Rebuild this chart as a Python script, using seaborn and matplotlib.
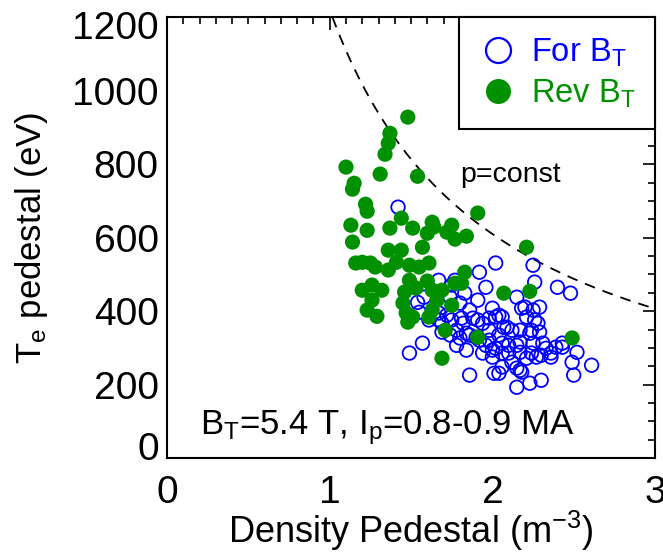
import matplotlib
matplotlib.use("Agg")
import numpy as np
import pandas as pd
import seaborn as sns
import matplotlib.pyplot as plt
from matplotlib.lines import Line2D
from matplotlib.ticker import MultipleLocator
from matplotlib.transforms import ScaledTranslation

# ---------------- data ----------------
for_n = [1.42, 2.02, 2.25, 1.92, 1.67, 1.75, 1.96, 2.26, 2.40, 2.48, 1.83, 1.91, 2.15,
         1.80, 1.86, 1.69, 1.72, 2.00, 2.02, 2.18, 2.25, 2.29, 1.75, 1.82, 1.88, 1.94,
         1.61, 1.69, 2.21, 2.26, 2.09, 2.17, 2.23, 2.29, 1.98, 2.04, 1.74, 1.80, 1.86,
         1.92, 1.57, 1.78, 1.84, 1.96, 2.02, 2.10, 2.17, 2.25, 2.33, 2.39, 2.43, 1.94,
         2.00, 2.06, 2.17, 2.24, 2.30, 2.36, 2.52, 2.49, 2.61, 2.50, 1.86, 2.01, 2.06,
         2.17, 2.15, 2.23, 2.30, 1.49, 1.58, 1.54, 1.55, 1.74, 1.67, 1.67, 1.81, 1.91,
         1.98, 2.04, 1.69, 1.78, 1.84, 1.90, 1.98, 2.00, 2.06, 2.15, 2.21, 2.27, 2.10,
         2.12, 2.15, 2.18, 2.04, 2.36, 2.28, 2.24, 2.31, 2.07, 2.12, 2.20, 2.06, 2.43,
         1.77]
for_te = [683, 531, 525, 506, 484, 471, 465, 479, 465, 449, 449, 430, 438,
          422, 403, 411, 389, 408, 384, 408, 403, 411, 376, 367, 381, 367,
          376, 367, 384, 376, 356, 348, 340, 343, 348, 335, 335, 327, 335,
          321, 313, 307, 294, 307, 299, 307, 316, 313, 299, 302, 313, 286,
          275, 286, 288, 286, 280, 275, 288, 261, 253, 226, 226, 231, 248,
          239, 193, 204, 212, 286, 438, 424, 397, 438, 395, 376, 381, 376,
          381, 389, 343, 348, 340, 329, 321, 294, 313, 307, 272, 275, 286,
          261, 245, 234, 231, 286, 367, 348, 313, 356, 348, 411, 384, 302,
          484]

rev_n = [1.48, 1.37, 1.36, 1.34, 1.10, 1.31, 1.54, 1.15, 1.14, 1.22, 1.23, 1.44, 1.13,
         1.23, 1.37, 1.51, 1.63, 1.64, 1.60, 1.14, 1.57, 1.36, 1.44, 1.41, 1.16, 1.20,
         1.25, 1.28, 1.36, 1.49, 1.55, 1.61, 1.49, 1.60, 1.20, 1.26, 1.32, 1.26, 1.46,
         1.53, 1.45, 1.23, 1.29, 1.47, 1.48, 1.61, 1.66, 1.69, 1.71, 1.91, 1.75, 1.72,
         1.77, 1.84, 2.21, 1.83, 1.77, 1.81, 1.63, 1.75, 2.07, 2.23, 1.91, 1.69, 2.49,
         1.63, 1.51]
rev_te = [928, 884, 857, 827, 792, 773, 767, 748, 732, 691, 672, 653, 634,
          620, 626, 626, 642, 629, 612, 588, 574, 566, 566, 533, 531, 533,
          531, 520, 512, 525, 520, 531, 484, 482, 457, 471, 457, 430, 452,
          463, 422, 403, 386, 395, 370, 384, 430, 457, 348, 667, 634, 615,
          596, 604, 574, 506, 476, 476, 403, 416, 449, 454, 329, 272, 327,
          457, 384]

p_const = 1220.0          # T_e * n along the dashed p=const curve
x_ticks = [0, 1, 2, 3]
y_ticks = [0, 200, 400, 600, 800, 1000, 1200]
series_labels = ["For B$_\\mathrm{T}$", "Rev B$_\\mathrm{T}$"]

BLUE = "#0000FF"
GREEN = "#009000"

# ---------------- style ----------------
sns.set_theme(style="white")
plt.rcParams["font.family"] = ["Liberation Sans", "DejaVu Sans"]
plt.rcParams["mathtext.fontset"] = "custom"
plt.rcParams["mathtext.rm"] = "Liberation Sans"
plt.rcParams["mathtext.it"] = "Liberation Sans:italic"
plt.rcParams["mathtext.bf"] = "Liberation Sans:bold"
plt.rcParams["text.color"] = "black"
plt.rcParams["axes.labelcolor"] = "black"
plt.rcParams["xtick.color"] = "black"
plt.rcParams["ytick.color"] = "black"

fig = plt.figure(figsize=(6.63, 5.54), dpi=100)
ax = fig.add_axes([0.252, 0.173, 0.736, 0.796])

df_for = pd.DataFrame({"n": for_n, "te": for_te})
df_rev = pd.DataFrame({"n": rev_n, "te": rev_te})

sns.scatterplot(data=df_for, x="n", y="te", ax=ax, marker="o", s=95,
                facecolors="none", edgecolor=BLUE, linewidth=1.3, zorder=3)
sns.scatterplot(data=df_rev, x="n", y="te", ax=ax, marker="o", s=120,
                color=GREEN, edgecolor="none", linewidth=0, zorder=4)

# p = const curve
n_curve = np.linspace(p_const / 1200.0, 3.0, 300)
ax.plot(n_curve, p_const / n_curve, color="black", lw=1.3,
        ls=(0, (6, 4.5)), zorder=2)

ax.set_xlim(0, 3)
ax.set_ylim(0, 1200)
ax.set_xticks(x_ticks)
ax.set_yticks(y_ticks)
ax.xaxis.set_minor_locator(MultipleLocator(0.1))
ax.yaxis.set_minor_locator(MultipleLocator(50))
ax.tick_params(which="both", direction="in", top=True, right=True,
               color="black", labelcolor="black", width=1.2)
ax.tick_params(which="major", length=9)
ax.tick_params(which="minor", length=5)
ax.tick_params(axis="x", which="major", labelsize=28, pad=12)
ax.tick_params(axis="y", which="major", labelsize=28, pad=6)
for sp in ax.spines.values():
    sp.set_color("black")
    sp.set_linewidth(1.5)

# shift the end labels of the y axis inward like the original
ylabs = ax.get_yticklabels()
ylabs[0].set_transform(ylabs[0].get_transform() +
                       ScaledTranslation(0, 0.12, fig.dpi_scale_trans))
ylabs[-1].set_transform(ylabs[-1].get_transform() +
                        ScaledTranslation(0, -0.08, fig.dpi_scale_trans))

ax.set_xlabel("Density Pedestal (m$^{-3}$)", fontsize=26, color="black")
ax.xaxis.set_label_coords(0.5, -0.114)
ax.set_ylabel("T$_\\mathrm{e}$ pedestal (eV)", fontsize=25, color="black")
ax.yaxis.set_label_coords(-0.24, 0.5)

ax.text(1.80, 770, "p=const", fontsize=20.5, va="center", ha="left", color="black")
ax.text(0.2, 82, "B$_\\mathrm{T}$=5.4 T, I$_\\mathrm{p}$=0.8-0.9 MA", fontsize=25,
        va="center", ha="left", color="black")

handles = [
    Line2D([], [], marker="o", ls="none", mfc="none", mec=BLUE, mew=1.6, ms=18),
    Line2D([], [], marker="o", ls="none", mfc=GREEN, mec=GREEN, mew=0, ms=18),
]
leg = ax.legend(handles, series_labels, loc="upper right", bbox_to_anchor=(1, 1),
                borderaxespad=0, fontsize=23.5, frameon=True, fancybox=False,
                framealpha=1, edgecolor="black", borderpad=0.6,
                handlelength=1.2, handletextpad=0.4, labelspacing=0.25)
leg.get_frame().set_linewidth(1.5)
leg.get_texts()[0].set_color(BLUE)
leg.get_texts()[1].set_color(GREEN)
leg.set_zorder(5)

fig.savefig("out.png", dpi=100)
